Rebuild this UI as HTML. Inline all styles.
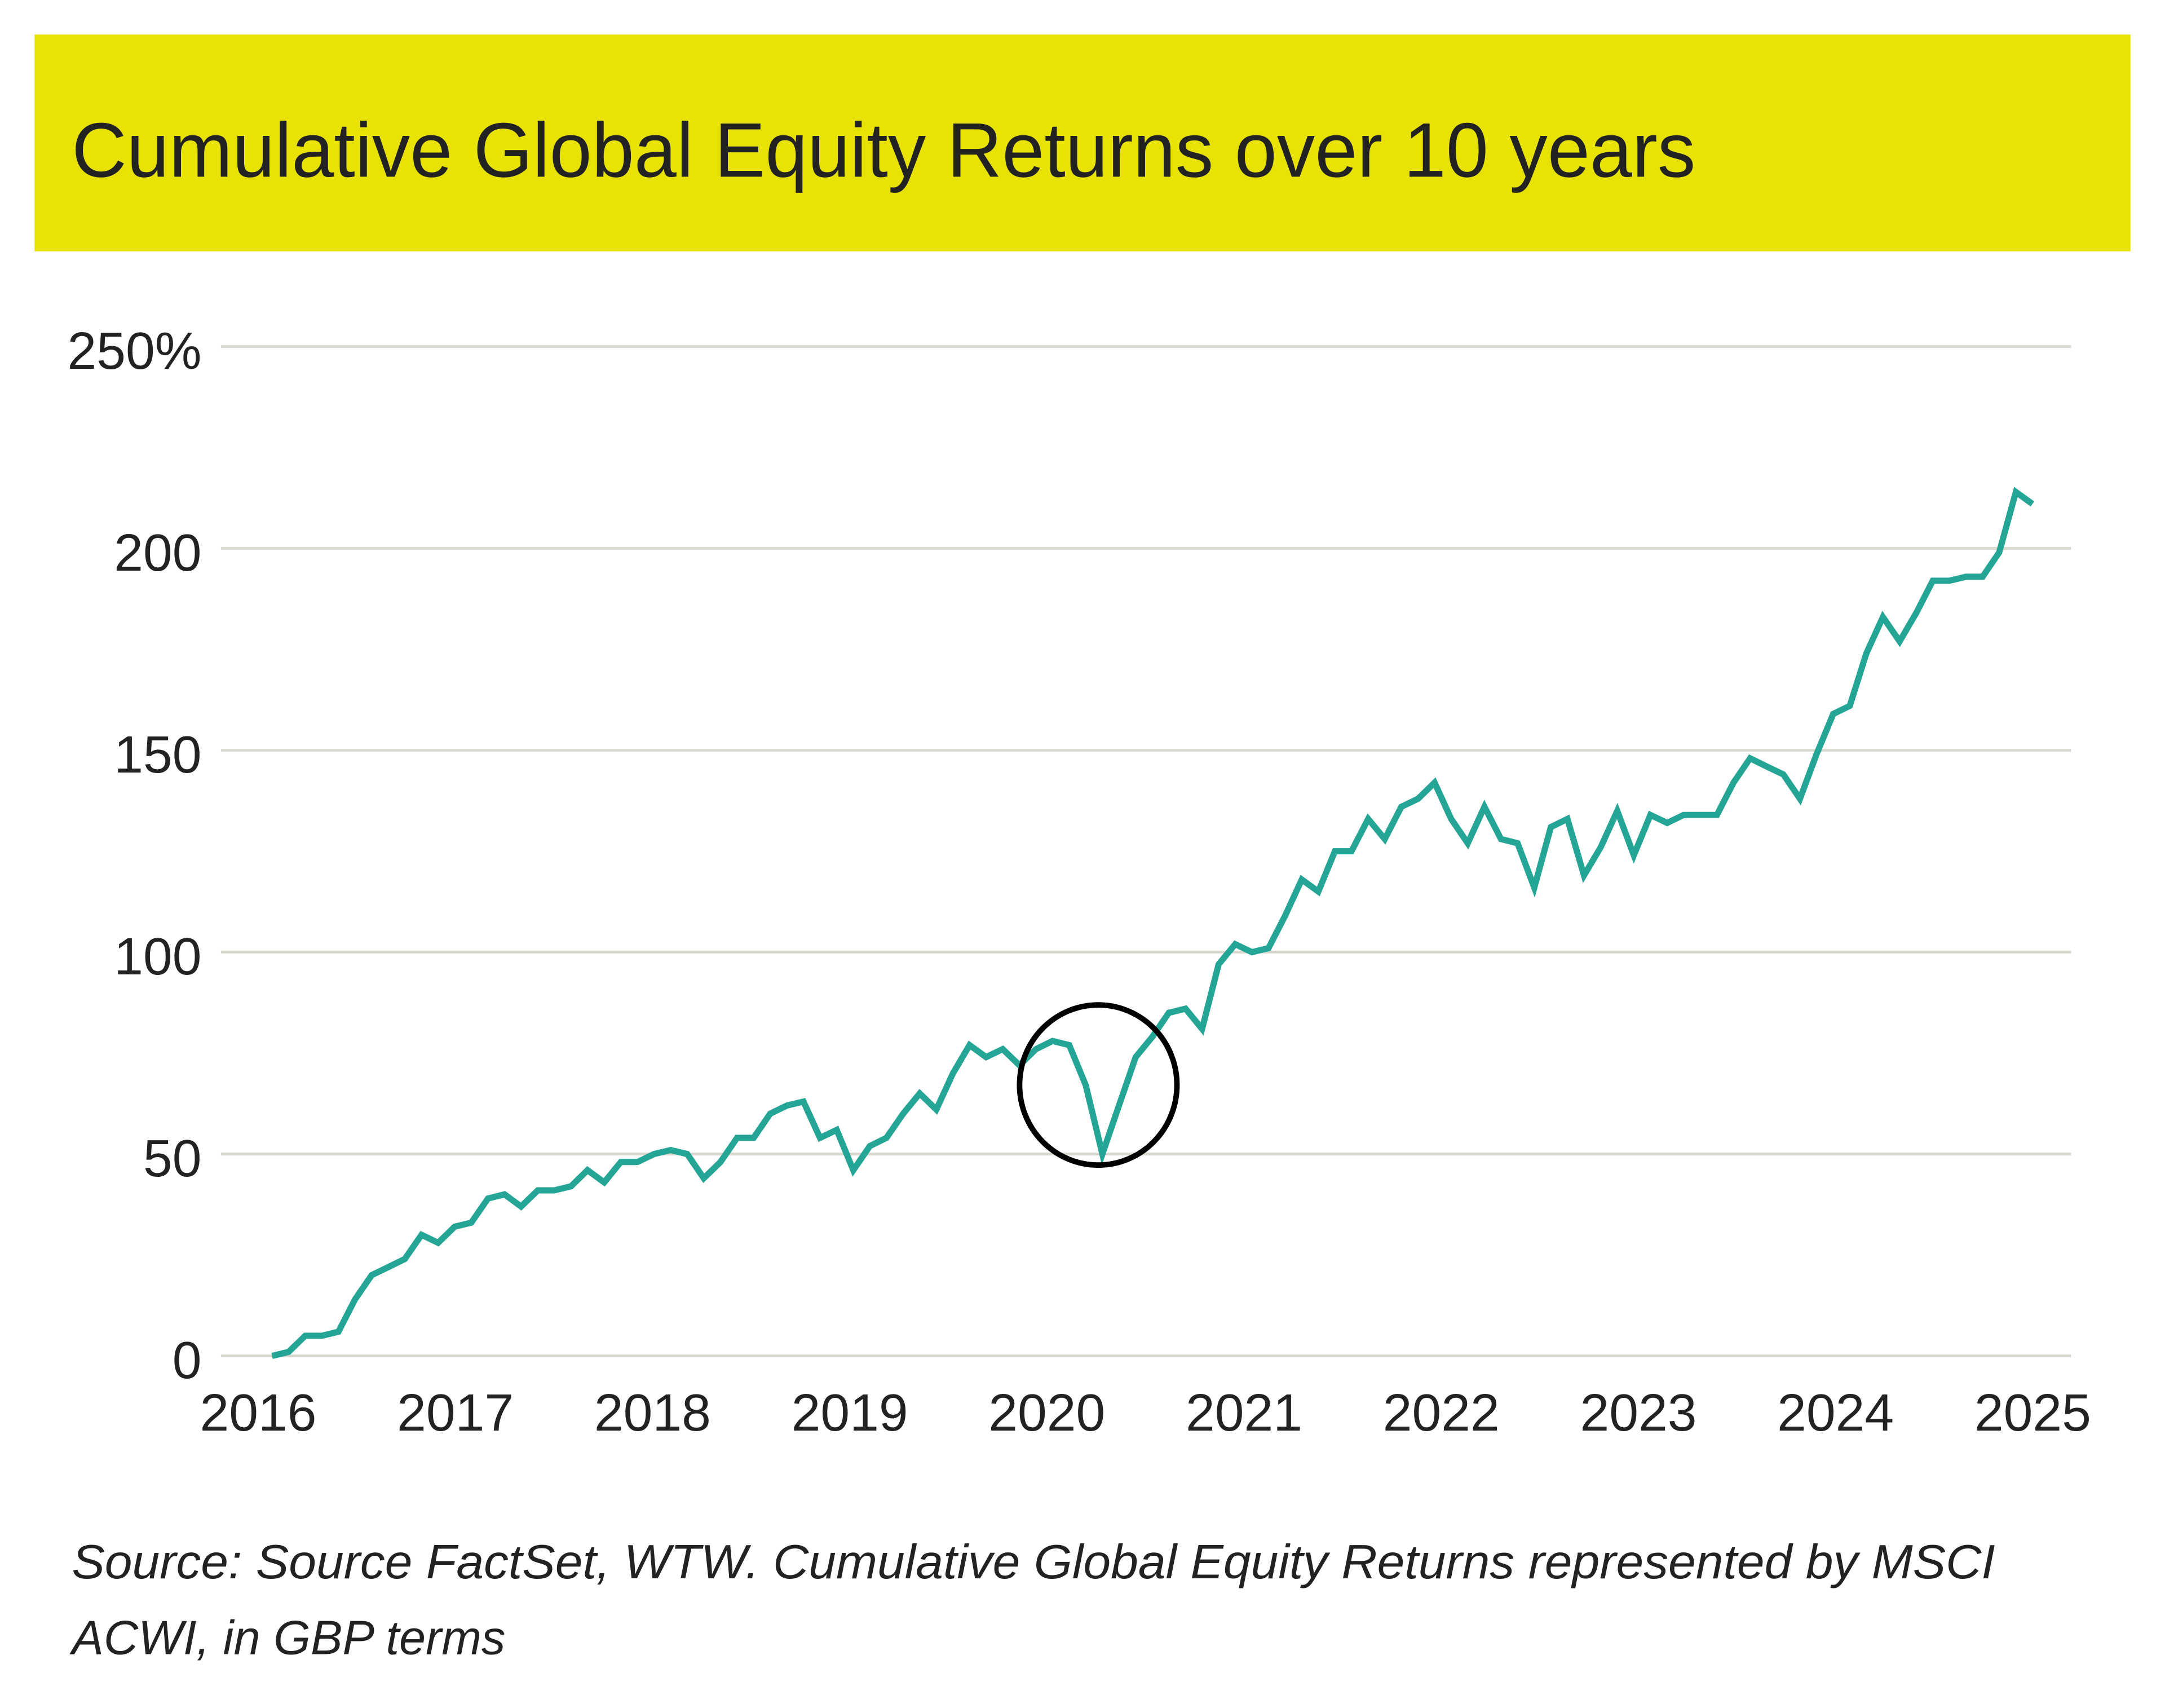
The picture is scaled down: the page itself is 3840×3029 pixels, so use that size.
<!DOCTYPE html>
<html><head><meta charset="utf-8"><style>
html,body{margin:0;padding:0;background:#fff;}
svg{display:block;}
text{font-family:"Liberation Sans",sans-serif;fill:#222;}
</style></head><body>
<svg id="chart" width="3840" height="3029" viewBox="0 0 1568 1237" preserveAspectRatio="none" xmlns="http://www.w3.org/2000/svg">
<rect x="25" y="25" width="1518" height="157" fill="#e9e305"/>
<text x="52" y="128" font-size="56" textLength="1176" lengthAdjust="spacingAndGlyphs">Cumulative Global Equity Returns over 10 years</text>
<g id="grid"></g>
<g id="yax"></g>
<g id="xax"></g>
<path id="line" fill="none" stroke="#25a596" stroke-width="4.5" stroke-linejoin="miter"/>
<ellipse id="hl" fill="none" stroke="#000" stroke-width="4"/>
<text x="52" y="1143" font-size="35" font-style="italic" textLength="1393" lengthAdjust="spacingAndGlyphs">Source: Source FactSet, WTW. Cumulative Global Equity Returns represented by MSCI</text>
<text x="52" y="1198" font-size="35" font-style="italic" textLength="314" lengthAdjust="spacingAndGlyphs">ACWI, in GBP terms</text>
</svg>
<script>
const yTicks=[0,50,100,150,200,250];
const yTickLabels=["0","50","100","150","200","250%"];
const xYears=[2016,2017,2018,2019,2020,2021,2022,2023,2024,2025];
const values=[0,1,5,5,6,14,20,22,24,30,28,32,33,39,40,37,41,41,42,46,43,48,48,50,51,50,44,48,54,54,60,62,63,54,56,46,52,54,60,65,61,70,77,74,76,72,76,78,77,67,50,62,74,79,85,86,81,97,102,100,101,109,118,115,125,125,133,128,136,138,142,133,127,136,128,127,116,131,133,119,126,135,124,134,132,134,134,134,142,148,146,144,138,149,159,161,174,183,177,184,192,192,193,193,199,214,211];
const highlightIndex=50;
const NS="http://www.w3.org/2000/svg";
function yS(v){return 982-v*(982-251)/250;}
function xI(i){return 197+i*(1275/(values.length-1));}
function xY(y){return 187+(y-2016)*142.8;}
const grid=document.getElementById('grid'),yax=document.getElementById('yax'),xax=document.getElementById('xax');
yTicks.forEach((t,k)=>{
  const l=document.createElementNS(NS,'line');
  
  
  l.setAttribute('x1',160);l.setAttribute('x2',1500);l.setAttribute('y1',yS(t));l.setAttribute('y2',yS(t));
  l.setAttribute('stroke','#d9d9d0');l.setAttribute('stroke-width','2');
  grid.appendChild(l);
  const tx=document.createElementNS(NS,'text');
  
  
  tx.setAttribute('x',146);tx.setAttribute('y',yS(t)+16);tx.setAttribute('text-anchor','end');tx.setAttribute('font-size','38');
  tx.textContent=yTickLabels[k];
  yax.appendChild(tx);
});
xYears.forEach(y=>{
  const tx=document.createElementNS(NS,'text');
  
  
  tx.setAttribute('x',xY(y));tx.setAttribute('y',1036);tx.setAttribute('text-anchor','middle');tx.setAttribute('font-size','38');
  tx.textContent=y;
  xax.appendChild(tx);
});
document.getElementById('line').setAttribute('d',values.map((v,i)=>(i?'L':'M')+xI(i).toFixed(1)+' '+yS(v).toFixed(1)).join(' '));
const hl=document.getElementById('hl');
hl.setAttribute('cx',xI(highlightIndex)-3);hl.setAttribute('cy',yS(values[highlightIndex])-50);hl.setAttribute('rx',57);hl.setAttribute('ry',58);
</script>
</body></html>
